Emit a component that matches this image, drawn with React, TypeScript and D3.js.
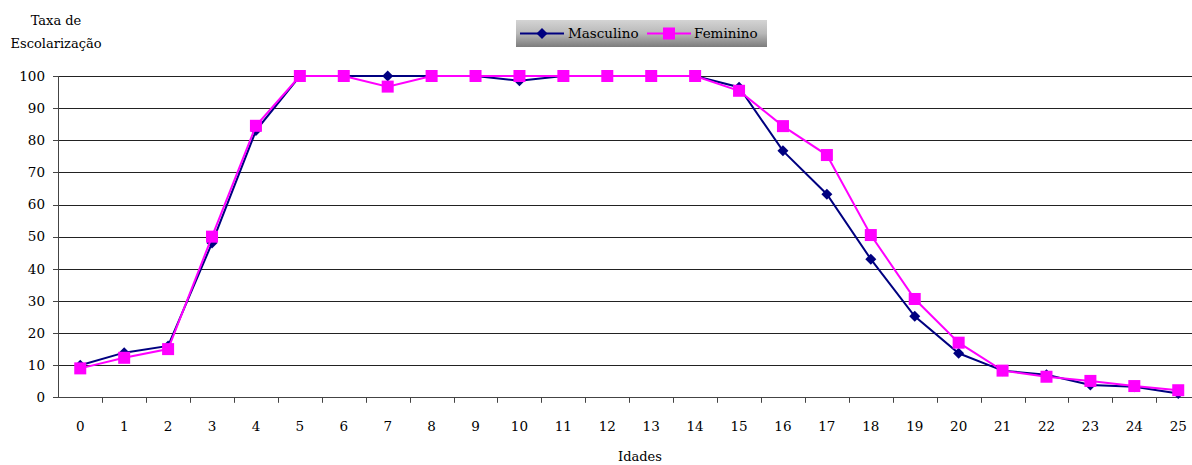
import * as d3 from "d3";

// Taxa de escolarização por idade e sexo
const AGES = d3.range(0, 26).map(String);
const MASCULINO = [10, 13.9, 16, 48, 83, 100, 100, 100, 100, 100, 98.5, 100, 100, 100, 100, 96.5, 76.7, 63.2, 43, 25.2, 13.7, 8.3, 7, 3.8, 3.3, 1.2];
const FEMININO = [9, 12.3, 15, 50, 84.5, 100, 100, 96.7, 100, 100, 100, 100, 100, 100, 100, 95.4, 84.4, 75.4, 50.5, 30.6, 17, 8.3, 6.4, 5.1, 3.5, 2.2];
const Y_TICKS = [0, 10, 20, 30, 40, 50, 60, 70, 80, 90, 100];

const W = 1192;
const H = 465;
const FONT = "'DejaVu Serif', serif";
const FS = 13.5;
const NAVY = "#000080";
const MAGENTA = "#ff00ff";

const x = d3.scaleBand<string>().domain(AGES).range([58.3, 1200.2]).paddingInner(0).paddingOuter(0);
const y = d3.scaleLinear().domain([0, 100]).range([397.3, 76]);
const cx = (a: string) => (x(a) ?? 0) + x.bandwidth() / 2;

const line = d3
  .line<number>()
  .x((_d, i) => cx(AGES[i]))
  .y((d) => y(d));

const diamond = (px: number, py: number, r = 5.5) =>
  `M${px},${py - r}L${px + r},${py}L${px},${py + r}L${px - r},${py}Z`;

export default function App() {
  const x0 = x.range()[0];
  const yBase = y(0);
  return (
    <svg
      width={W}
      height={H}
      style={{ position: "absolute", left: 0, top: 0, background: "#fff" }}
    >
      <defs>
        <linearGradient id="lg" x1="0" y1="0" x2="0" y2="1">
          <stop offset="0" stopColor="#d4d4d4" />
          <stop offset="0.5" stopColor="#b8b8b8" />
          <stop offset="1" stopColor="#7c7c7c" />
        </linearGradient>
      </defs>

      {/* gridlines */}
      {Y_TICKS.map((t) => (
        <line
          key={t}
          x1={x0}
          x2={W}
          y1={Math.round(y(t)) + 0.5}
          y2={Math.round(y(t)) + 0.5}
          stroke={t === 0 ? "#444" : "#222"}
          strokeWidth={1}
        />
      ))}

      {/* y axis */}
      <line x1={58.5} x2={58.5} y1={y(100)} y2={yBase + 0.5} stroke="#444" />
      {Y_TICKS.map((t) => (
        <g key={t}>
          <line x1={53} x2={58.5} y1={Math.round(y(t)) + 0.5} y2={Math.round(y(t)) + 0.5} stroke="#444" />
          <text x={45} y={y(t)} dy="0.35em" textAnchor="end" fontSize={FS} fontFamily={FONT}>
            {t}
          </text>
        </g>
      ))}

      {/* x axis ticks + labels */}
      {AGES.map((a, i) => (
        <g key={a}>
          {i > 0 && (
            <line
              x1={Math.round(x(a) ?? 0) + 0.5}
              x2={Math.round(x(a) ?? 0) + 0.5}
              y1={yBase}
              y2={yBase + 5.5}
              stroke="#444"
            />
          )}
          <text x={cx(a)} y={431} textAnchor="middle" fontSize={FS} fontFamily={FONT}>
            {a}
          </text>
        </g>
      ))}

      {/* series */}
      <path d={line(MASCULINO) ?? ""} fill="none" stroke={NAVY} strokeWidth={2} />
      {MASCULINO.map((v, i) => (
        <path key={i} d={diamond(cx(AGES[i]), y(v))} fill={NAVY} />
      ))}
      <path d={line(FEMININO) ?? ""} fill="none" stroke={MAGENTA} strokeWidth={2} />
      {FEMININO.map((v, i) => (
        <rect key={i} x={cx(AGES[i]) - 6} y={y(v) - 6} width={12} height={12} fill={MAGENTA} />
      ))}

      {/* axis titles */}
      <text x={56} y={25} textAnchor="middle" fontSize={13} fontFamily={FONT}>
        Taxa de
      </text>
      <text x={56} y={48} textAnchor="middle" fontSize={13} fontFamily={FONT}>
        Escolarização
      </text>
      <text x={640} y={461} textAnchor="middle" fontSize={13} fontFamily={FONT}>
        Idades
      </text>

      {/* legend */}
      <rect x={516} y={20} width={251} height={27} fill="url(#lg)" />
      <line x1={520} x2={564} y1={33.5} y2={33.5} stroke={NAVY} strokeWidth={2} />
      <path d={diamond(542, 33.5)} fill={NAVY} />
      <text x={568} y={33.5} dy="0.35em" fontSize={FS} fontFamily={FONT}>
        Masculino
      </text>
      <line x1={647} x2={691} y1={33.5} y2={33.5} stroke={MAGENTA} strokeWidth={2} />
      <rect x={663} y={27.5} width={12} height={12} fill={MAGENTA} />
      <text x={694} y={33.5} dy="0.35em" fontSize={FS} fontFamily={FONT}>
        Feminino
      </text>
    </svg>
  );
}
